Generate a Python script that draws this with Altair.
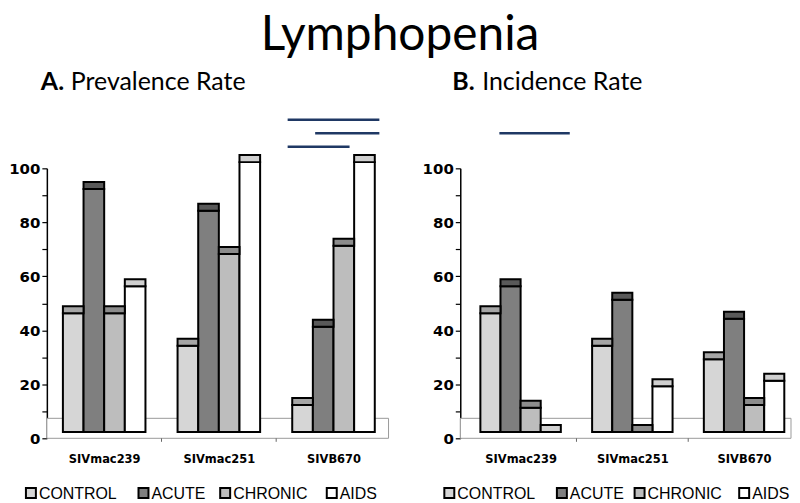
import altair as alt
import pandas as pd

# ---------------- data ----------------
groups = ["SIVmac239", "SIVmac251", "SIVB670"]
series = ["CONTROL", "ACUTE", "CHRONIC", "AIDS"]

# A. Prevalence rate (%), per group
prev_control = [44, 32, 10]
prev_acute = [90, 82, 39]
prev_chronic = [44, 66, 69]
prev_aids = [54, 100, 100]

# B. Incidence rate (%), per group
inc_control = [44, 32, 27]
inc_acute = [54, 49, 42]
inc_chronic = [9, 0, 10]
inc_aids = [0, 17, 19]

# significance bars (x in group units, level in % units)
sig_prev_start = [1.60, 1.84, 1.60]
sig_prev_end = [2.40, 2.40, 2.14]
sig_prev_level = [118, 113, 108]
sig_inc_start = [-0.19]
sig_inc_end = [0.44]
sig_inc_level = [113]

main_title = "Lymphopenia"
sub_a = ("A.", "Prevalence Rate")
sub_b = ("B.", "Incidence Rate")

# ---------------- styles ----------------
front_colors = ["#d6d6d6", "#7f7f7f", "#bdbdbd", "#ffffff"]
cap_colors = ["#a6a6a6", "#595959", "#8c8c8c", "#d0d0d0"]
NAVY = "#1f3864"
BW = 0.18      # bar width in group units
FF = 2.3       # 3D floor offset of bar bottoms
CAP = 2.6      # 3D top cap depth
FLOOR = 7.4    # 3D floor depth
H = 271
LEG_X_A = [-16, 97, 179, 286]   # legend symbol centres (px from plot origin)
LEG_X_B = [-11, 102, 180, 285]
LEG_Y = 326


def build_df(vals):
    rows = []
    for si, (s, arr) in enumerate(zip(series, vals)):
        for gi, g in enumerate(groups):
            rows.append({"group": g, "gi": gi, "series": s, "si": si, "value": arr[gi]})
    return pd.DataFrame(rows)


label_expr = "[" + ",".join("'%s'" % g for g in groups) + "][datum.value]"
XAX = alt.Axis(values=list(range(len(groups))), labelExpr=label_expr, ticks=False, domain=False,
               grid=False, title=None, labelFont="DejaVu Sans", labelFontWeight="bold",
               labelFontSize=11.5, labelColor="black", labelPadding=15, labelFlush=False)
YAX = alt.Axis(values=list(range(0, 101, 10)), labelExpr="datum.value % 20 == 0 ? datum.label : ''",
               grid=False, title=None, domainColor="black", domainWidth=1.5, tickColor="black",
               tickSize=5, tickWidth=1.2, labelFont="DejaVu Sans", labelFontWeight="bold",
               labelFontSize=15, labelColor="black", labelPadding=2)
CSCALE = alt.Scale(domain=series, range=front_colors)


def panel(df, sig_df, sub, xdom, width, sub_x, leg_x):
    xs = alt.Scale(domain=xdom, nice=False, zero=False)
    ys = alt.Scale(domain=[0, 100], nice=False, zero=True)

    base = alt.Chart(df).transform_calculate(
        x0=f"datum.gi + (datum.si - 2) * {BW}",
        x1=f"datum.gi + (datum.si - 1) * {BW}",
        yb=f"{FF}",
        yt=f"datum.value + {FF}",
        yc=f"datum.value + {FF} + {CAP}",
    )

    one = pd.DataFrame({"k": [0]})
    floor = alt.Chart(one).mark_rect(fill="white", stroke="#9a9a9a", strokeWidth=1).encode(
        x=alt.X(datum=xdom[0], scale=xs, axis=XAX), x2=alt.X2(datum=xdom[1]),
        y=alt.Y(datum=0, scale=ys, axis=YAX), y2=alt.Y2(datum=FLOOR),
    )

    bounds = pd.DataFrame({"b": [i + 0.5 for i in range(len(groups) - 1)]})
    gticks = alt.Chart(bounds).mark_rule(color="#666", strokeWidth=1).encode(
        x=alt.X("b:Q", scale=xs, axis=XAX),
        y=alt.Y(datum=0, scale=ys, axis=YAX), y2=alt.Y2(datum=-1.3),
    )

    front = base.mark_bar(stroke="black", strokeWidth=2).encode(
        x=alt.X("x0:Q", scale=xs, axis=XAX), x2="x1:Q",
        y=alt.Y("yt:Q", scale=ys, axis=YAX), y2="yb:Q",
        color=alt.Color("series:N", scale=CSCALE, legend=None),
    )

    cap = base.mark_bar(stroke="black", strokeWidth=2).encode(
        x=alt.X("x0:Q", scale=xs, axis=XAX), x2="x1:Q",
        y=alt.Y("yc:Q", scale=ys, axis=YAX), y2="yt:Q",
        fill=alt.Fill("series:N", scale=alt.Scale(domain=series, range=cap_colors), legend=None),
    )

    sig = alt.Chart(sig_df).mark_rule(color=NAVY, strokeWidth=2.5).encode(
        x=alt.X("start:Q", scale=xs, axis=XAX), x2="end:Q",
        y=alt.Y("level:Q", scale=ys, axis=YAX),
    )

    t1 = alt.Chart(one).mark_text(font="Lato", fontSize=25, fontWeight="bold", align="left",
                                  baseline="alphabetic", color="black").encode(
        x=alt.value(sub_x[0]), y=alt.value(-79), text=alt.value(sub[0]))
    t2 = alt.Chart(one).mark_text(font="Lato", fontSize=25, fontWeight="normal", align="left",
                                  baseline="alphabetic", color="black").encode(
        x=alt.value(sub_x[1]), y=alt.value(-79), text=alt.value(sub[1]))

    legend_layers = []
    for i, s in enumerate(series):
        d = pd.DataFrame({"series": [s]})
        legend_layers.append(
            alt.Chart(d).mark_square(size=100, stroke="black", strokeWidth=2, opacity=1).encode(
                x=alt.value(leg_x[i]), y=alt.value(LEG_Y),
                color=alt.Color("series:N", scale=CSCALE, legend=None)))
        legend_layers.append(
            alt.Chart(d).mark_text(font="Liberation Sans", fontSize=16, align="left",
                                   baseline="alphabetic", color="black").encode(
                x=alt.value(leg_x[i] + 8), y=alt.value(LEG_Y + 6), text="series:N"))

    return alt.layer(floor, gticks, front, cap, sig, t1, t2, *legend_layers).properties(
        width=width, height=H)


prev_df = build_df([prev_control, prev_acute, prev_chronic, prev_aids])
inc_df = build_df([inc_control, inc_acute, inc_chronic, inc_aids])
sig_prev = pd.DataFrame({"start": sig_prev_start, "end": sig_prev_end, "level": sig_prev_level})
sig_inc = pd.DataFrame({"start": sig_inc_start, "end": sig_inc_end, "level": sig_inc_level})

left = panel(prev_df, sig_prev, sub_a, [-0.5, 2.48], 343, (-6, 24), LEG_X_A)
right = panel(inc_df, sig_inc, sub_b, [-0.54, 2.42], 332, (-8, 22), LEG_X_B)

chart = alt.hconcat(left, right, spacing=32).properties(
    title=alt.TitleParams(main_title, font="Lato", fontSize=48, fontWeight="normal",
                          anchor="middle", color="black", offset=10),
    padding={"top": 3, "left": 0, "right": 0, "bottom": 0}, background="white",
).configure_view(stroke=None)

chart.save("out.html", embed_options={"renderer": "svg", "actions": False})
